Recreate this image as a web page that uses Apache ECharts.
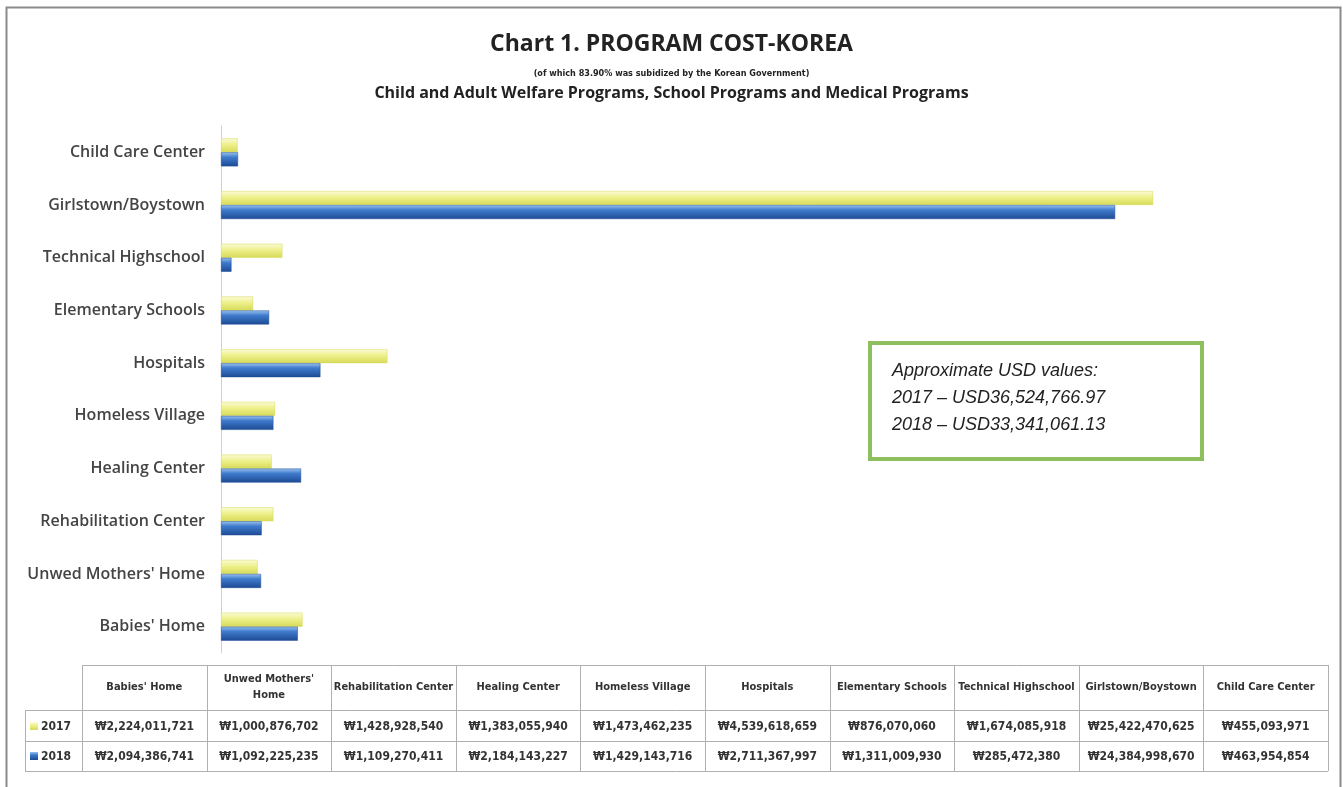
<!DOCTYPE html>
<html>
<head>
<meta charset="utf-8">
<script src="https://cdn.jsdelivr.net/npm/echarts@6/dist/echarts.min.js"></script>
<style>
html,body{margin:0;padding:0;background:#fff;}
#main{width:1343px;height:787px;}
</style>
</head>
<body>
<div id="main"></div>
<script>
var categories = ["Babies' Home", "Unwed Mothers' Home", "Rehabilitation Center", "Healing Center", "Homeless Village",
	"Hospitals", "Elementary Schools", "Technical Highschool", "Girlstown/Boystown", "Child Care Center"];
var tableHeads = ["Babies' Home", "Unwed Mothers'\nHome", "Rehabilitation Center", "Healing Center", "Homeless Village",
	"Hospitals", "Elementary Schools", "Technical Highschool", "Girlstown/Boystown", "Child Care Center"];
var cost2017 = [2224011721, 1000876702, 1428928540, 1383055940, 1473462235, 4539618659, 876070060, 1674085918, 25422470625, 455093971];
var cost2018 = [2094386741, 1092225235, 1109270411, 2184143227, 1429143716, 2711367997, 1311009930, 285472380, 24384998670, 463954854];
var usdLines = ["Approximate USD values:", "2017 \u2013 USD36,524,766.97", "2018 \u2013 USD33,341,061.13"];

var yellowGrad = new echarts.graphic.LinearGradient(0, 0, 0, 1, [
	{offset: 0, color: '#fbfbd8'}, {offset: 0.45, color: '#eef08a'}, {offset: 1, color: '#d6da58'}]);
var blueGrad = new echarts.graphic.LinearGradient(0, 0, 0, 1, [
	{offset: 0, color: '#9cc4ee'}, {offset: 0.35, color: '#3f7bcc'}, {offset: 1, color: '#1d4a94'}]);

function won(v){
	return '\u20a9' + v.toString().replace(/\B(?=(\d{3})+(?!\d))/g, ",");
}

// data table under the chart
var tabLeft = 82, tabRight = 1328, keyLeft = 25;
var rowY = [665, 710, 741, 771];
var colW = (tabRight - tabLeft) / categories.length;
var headFont = 'bold 11px "DejaVu Sans Condensed", sans-serif';
var cellFont = 'bold 12px "DejaVu Sans Condensed", sans-serif';
var lineStyle = {stroke: '#b0b0b0', lineWidth: 1};
var graphics = [];
// frame
graphics.push({type: 'rect', shape: {x: 6.5, y: 7.5, width: 1334, height: 800}, style: {fill: null, stroke: '#8a8a8a', lineWidth: 2}, silent: true});
// horizontal rules
graphics.push({type: 'line', shape: {x1: tabLeft, y1: rowY[0] + 0.5, x2: tabRight, y2: rowY[0] + 0.5}, style: lineStyle});
for(var r = 1; r < rowY.length; r++){
	graphics.push({type: 'line', shape: {x1: keyLeft, y1: rowY[r] + 0.5, x2: tabRight, y2: rowY[r] + 0.5}, style: lineStyle});
}
graphics.push({type: 'line', shape: {x1: keyLeft + 0.5, y1: rowY[1], x2: keyLeft + 0.5, y2: rowY[3]}, style: lineStyle});
for(var c = 0; c <= categories.length; c++){
	var xx = Math.round(tabLeft + c * colW) + 0.5;
	graphics.push({type: 'line', shape: {x1: xx, y1: rowY[0], x2: xx, y2: rowY[3]}, style: lineStyle});
}
for(var i = 0; i < categories.length; i++){
	var cx = tabLeft + (i + 0.5) * colW;
	graphics.push({type: 'text', x: cx, y: (rowY[0] + rowY[1]) / 2, style: {text: tableHeads[i], font: headFont, fill: '#333', align: 'center', verticalAlign: 'middle', lineHeight: 16}});
	graphics.push({type: 'text', x: cx, y: (rowY[1] + rowY[2]) / 2 + 1, style: {text: won(cost2017[i]), font: cellFont, fill: '#333', align: 'center', verticalAlign: 'middle'}});
	graphics.push({type: 'text', x: cx, y: (rowY[2] + rowY[3]) / 2 + 1, style: {text: won(cost2018[i]), font: cellFont, fill: '#333', align: 'center', verticalAlign: 'middle'}});
}
// series keys
graphics.push({type: 'rect', shape: {x: 30, y: 722, width: 8, height: 8}, style: {fill: yellowGrad}});
graphics.push({type: 'text', x: 41, y: 726.5, style: {text: '2017', font: cellFont, fill: '#333', verticalAlign: 'middle'}});
graphics.push({type: 'rect', shape: {x: 30, y: 752, width: 8, height: 8}, style: {fill: blueGrad}});
graphics.push({type: 'text', x: 41, y: 756.5, style: {text: '2018', font: cellFont, fill: '#333', verticalAlign: 'middle'}});
// USD note
graphics.push({type: 'rect', shape: {x: 870, y: 343, width: 332, height: 116}, style: {fill: '#fff', stroke: '#8dbf5f', lineWidth: 4}});
graphics.push({type: 'text', x: 892, y: 357, style: {text: usdLines.join('\n'), font: 'italic 18px "Liberation Sans", Arial, sans-serif', fill: '#222', lineHeight: 27}});

var chart = echarts.init(document.getElementById('main'));
var option = {
	backgroundColor: '#ffffff',
	animation: false,
	title: [
		{text: 'Chart 1. PROGRAM COST-KOREA', left: 'center', top: 28,
			textStyle: {fontFamily: '"Open Sans", sans-serif', fontSize: 23, fontWeight: 'bold', color: '#222'}},
		{text: '(of which 83.90% was subidized by the Korean Government)', left: 'center', top: 64,
			textStyle: {fontFamily: '"DejaVu Sans Condensed", sans-serif', fontSize: 9, fontWeight: 'bold', color: '#222'}},
		{text: 'Child and Adult Welfare Programs, School Programs and Medical Programs', left: 'center', top: 80,
			textStyle: {fontFamily: '"Open Sans", sans-serif', fontSize: 16, fontWeight: 'bold', color: '#222'}}
	],
	grid: {left: 221, right: 22, top: 126, bottom: 134},
	xAxis: {
		type: 'value', min: 0, max: 30000000000,
		show: false
	},
	yAxis: {
		type: 'category', data: categories,
		axisLine: {show: true, lineStyle: {color: '#d0d0d0', width: 1}},
		axisTick: {show: false},
		axisLabel: {fontFamily: '"Open Sans", sans-serif', fontSize: 16, fontWeight: 600, color: '#444', margin: 16}
	},
	series: [
		{name: '2017', type: 'bar', data: cost2017, barWidth: 14, barGap: '0%',
			itemStyle: {color: yellowGrad, borderColor: '#d6da58', borderWidth: 0.5}},
		{name: '2018', type: 'bar', data: cost2018, barWidth: 14, barGap: '0%',
			itemStyle: {color: blueGrad, borderColor: '#1d4a94', borderWidth: 0.5}}
	],
	graphic: graphics
};
chart.setOption(option);
</script>
</body>
</html>
